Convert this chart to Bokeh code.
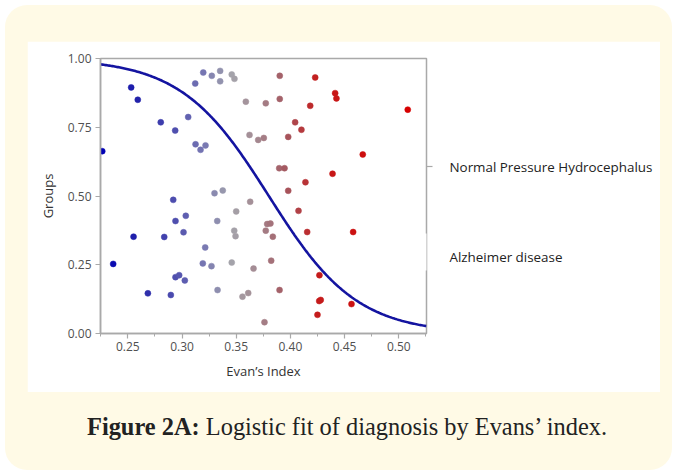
import numpy as np
from bokeh.plotting import figure
from bokeh.layouts import column
from bokeh.models import (Range1d, LinearAxis, FixedTicker, SingleIntervalTicker,
                          NumeralTickFormatter, BoxAnnotation, LinearColorMapper,
                          ColumnDataSource, Div)
from bokeh.transform import transform
from bokeh.embed import file_html
from bokeh.resources import INLINE

# ---- data ----
evans_index = [0.2264, 0.2531, 0.2592, 0.2365, 0.2553, 0.2685, 0.2804, 0.2836, 0.2897, 0.2919,
               0.2937, 0.2940, 0.2940, 0.2974, 0.3014, 0.3026, 0.3035, 0.3057, 0.3122, 0.3125,
               0.3171, 0.3192, 0.3196, 0.3214, 0.3217, 0.3272, 0.3275, 0.3300, 0.3325, 0.3328,
               0.3352, 0.3352, 0.3376, 0.3459, 0.3459, 0.3482, 0.3484, 0.3494, 0.3500, 0.3558,
               0.3589, 0.3611, 0.3623, 0.3629, 0.3660, 0.3703, 0.3755, 0.3761, 0.3773, 0.3773,
               0.3786, 0.3816, 0.3823, 0.3838, 0.3897, 0.3900, 0.3902, 0.3902, 0.3946, 0.3980,
               0.3980, 0.4044, 0.4075, 0.4102, 0.4139, 0.4155, 0.4183, 0.4229, 0.4250, 0.4266,
               0.4268, 0.4280, 0.4389, 0.4413, 0.4425, 0.4564, 0.4579, 0.4668, 0.5083]
group_position = [0.663, 0.895, 0.850, 0.253, 0.352, 0.146, 0.768, 0.351, 0.140, 0.486,
                  0.738, 0.409, 0.205, 0.212, 0.368, 0.193, 0.428, 0.787, 0.909, 0.688,
                  0.668, 0.255, 0.949, 0.313, 0.684, 0.245, 0.937, 0.510, 0.409, 0.158,
                  0.955, 0.917, 0.520, 0.942, 0.258, 0.374, 0.926, 0.354, 0.444, 0.134,
                  0.843, 0.147, 0.722, 0.479, 0.236, 0.704, 0.711, 0.041, 0.837, 0.374,
                  0.398, 0.400, 0.265, 0.352, 0.601, 0.158, 0.937, 0.853, 0.601, 0.715,
                  0.519, 0.768, 0.446, 0.741, 0.550, 0.369, 0.828, 0.931, 0.068, 0.118,
                  0.212, 0.122, 0.581, 0.874, 0.855, 0.107, 0.369, 0.651, 0.814]

# logistic fit coefficients (logit p = intercept + slope * x)
fit_intercept = 9.37
fit_slope = -24.65

group_labels = ["Alzheimer disease", "Normal Pressure Hydrocephalus"]
group_label_positions = [0.277, 0.607]

x_label = "Evan\u2019s Index"
y_label = "Groups"
caption_bold = "Figure 2A:"
caption_text = "Logistic fit of diagnosis by Evans\u2019 index."

# ---- styling / layout ----
X0, X1 = 0.2248, 0.5256
CARD_W, CARD_H = 667, 465
PANEL_X, PANEL_Y = 22, 36
PW, PH = 633, 351                      # white inner panel
FL, FR, FT, FB = 73, 234, 17, 59       # frame borders inside the panel
FW, FH = PW - FL - FR, PH - FT - FB
CAP_H = CARD_H - PANEL_Y - PH
YELLOW = "#fffae6"

anchor_x = [0.225, 0.26, 0.29, 0.32, 0.345, 0.37, 0.395, 0.425, 0.51]
anchor_c = ["#0000b4", "#2424aa", "#4a4aae", "#7878b2", "#a4a4ab", "#a48890",
            "#a45a62", "#c41c1c", "#d60000"]


def hex2rgb(h):
    return [int(h[i:i + 2], 16) for i in (1, 3, 5)]


grid = np.linspace(anchor_x[0], anchor_x[-1], 256)
rgb = np.array([hex2rgb(c) for c in anchor_c], dtype=float)
palette = []
for g in grid:
    r, gg, b = (np.interp(g, anchor_x, rgb[:, k]) for k in range(3))
    palette.append("#%02x%02x%02x" % (int(round(r)), int(round(gg)), int(round(b))))
mapper = LinearColorMapper(palette=palette, low=anchor_x[0], high=anchor_x[-1])

p = figure(width=PW, height=PH, output_backend="svg", toolbar_location=None,
           x_range=Range1d(X0, X1), y_range=Range1d(0, 1),
           min_border_left=FL, min_border_right=FR, min_border_top=FT, min_border_bottom=FB,
           margin=(PANEL_Y, CARD_W - PW - PANEL_X, 0, PANEL_X))
p.border_fill_color = "white"
p.background_fill_color = "white"
p.outline_line_color = "#a9a9a9"
p.outline_line_width = 1.5
p.grid.visible = False

# fitted curve
xs = np.linspace(X0, X1, 300)
ys = 1.0 / (1.0 + np.exp(-(fit_intercept + fit_slope * xs)))
p.line(xs, ys, line_color="#1414a0", line_width=2.6)

src = ColumnDataSource(dict(x=evans_index, y=group_position))
p.scatter("x", "y", source=src, size=6, fill_color=transform("x", mapper),
          line_color=transform("x", mapper), line_width=0.5)

axis_grey = "#a9a9a9"
tick_font = "Open Sans"

xa = p.xaxis[0]
xa.ticker = SingleIntervalTicker(interval=0.05, num_minor_ticks=2)
xa.formatter = NumeralTickFormatter(format="0.00")
xa.axis_label = x_label
ya = p.yaxis[0]
ya.ticker = SingleIntervalTicker(interval=0.25, num_minor_ticks=0)
ya.formatter = NumeralTickFormatter(format="0.00")
ya.axis_label = y_label

for ax in (xa, ya):
    ax.axis_line_color = axis_grey
    ax.axis_line_width = 1.5
    ax.major_tick_line_color = axis_grey
    ax.major_tick_line_width = 1.2
    ax.major_tick_out = 5
    ax.major_tick_in = 0
    ax.minor_tick_line_color = axis_grey
    ax.minor_tick_out = 3
    ax.minor_tick_in = 0
    ax.major_label_text_font = tick_font
    ax.major_label_text_font_size = "12px"
    ax.major_label_text_color = "#505050"
    ax.axis_label_text_font = tick_font
    ax.axis_label_text_font_size = "13px"
    ax.axis_label_text_font_style = "normal"
    ax.axis_label_text_color = "#333333"
ya.minor_tick_line_color = None
xa.major_label_standoff = 3
xa.axis_label_standoff = 8
ya.major_label_standoff = 4
ya.axis_label_standoff = 8

# group labels on the right: only the upper one carries a visible tick
ra = LinearAxis(ticker=FixedTicker(ticks=group_label_positions,
                                   minor_ticks=[group_label_positions[1]]),
                major_label_overrides={v: t for v, t in zip(group_label_positions, group_labels)})
ra.axis_line_color = None
ra.major_tick_line_color = None
ra.major_tick_out = 6
ra.major_tick_in = 0
ra.minor_tick_line_color = axis_grey
ra.minor_tick_line_width = 1.2
ra.minor_tick_out = 6
ra.minor_tick_in = 0
ra.major_label_standoff = 17
ra.major_label_text_font = tick_font
ra.major_label_text_font_size = "13.4px"
ra.major_label_text_color = "#222222"
p.add_layout(ra, "right")

# small break in the right frame line next to the lower group label
gap = BoxAnnotation(left=FW - 3, right=FW + 8, bottom=63, top=100,
                    left_units="screen", right_units="screen",
                    bottom_units="screen", top_units="screen",
                    fill_color="white", fill_alpha=1, line_color=None, level="overlay")
p.add_layout(gap)

# caption
cap_html = ('<div style="font-family: \'Liberation Serif\', serif; font-size: 24.4px; '
            'color: #222222; padding-left: 82px; padding-top: 21px; '
            'line-height: 28px; white-space: nowrap;">'
            '<b>%s</b> %s</div>' % (caption_bold, caption_text))
cap = Div(text=cap_html, width=CARD_W, height=CAP_H, margin=(0, 0, 0, 0))

card = column(p, cap, width=CARD_W, height=CARD_H, margin=(5, 5, 3, 5),
              styles={"background-color": YELLOW, "border-radius": "22px"})

open("out.html", "w").write(file_html(card, INLINE))
